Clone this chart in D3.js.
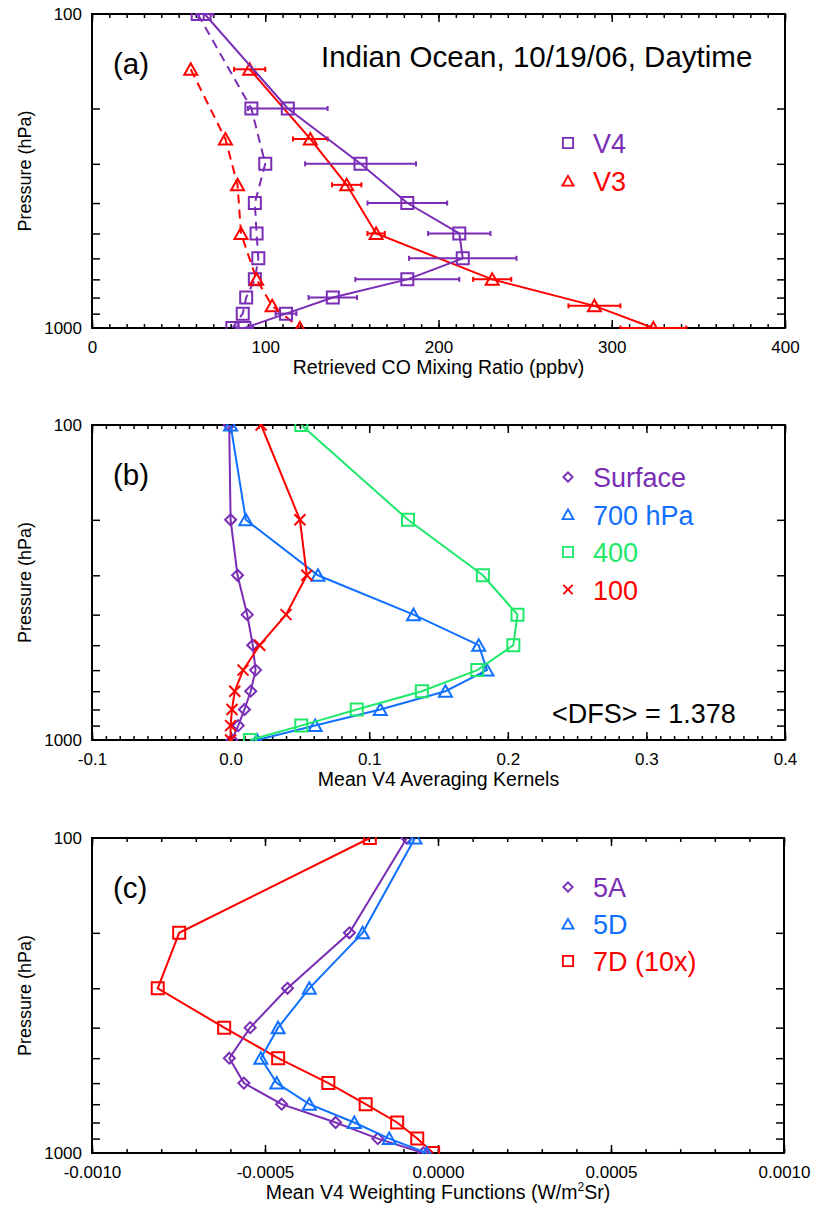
<!DOCTYPE html>
<html>
<head>
<meta charset="utf-8">
<script src="https://cdn.jsdelivr.net/npm/d3@7"></script>
<style>
body { margin: 0; background: #fff; }
text { font-family: "Liberation Sans", Arial, Helvetica, sans-serif; }
</style>
</head>
<body>
<div id="chart"></div>
<script>
// pressure levels (hPa)
var levels = [100, 200, 300, 400, 500, 600, 700, 800, 900, 1000];
var levelsV3 = [150, 250, 350, 500, 700, 850, 1000];

// panel (a): retrieved CO mixing ratio (ppbv)
var v4Retrieved = [65, 113, 155, 182, 212, 214, 182, 139, 112, 88];
var v4Error = [5, 23, 32, 23, 18, 31, 30, 14, 6, 5];
var v4Prior = [61, 92, 100, 94, 95, 96, 94, 89, 87, 81];
var v3Retrieved = [91, 126, 147, 164, 231, 290, 324];
var v3Error = [9, 10, 8.5, 5, 11, 15, 19];
var v3Prior = [57, 77, 84, 86, 95, 104, 120];

// panel (b): mean V4 averaging kernels
var akSurface = [-0.001, 0.0, 0.005, 0.012, 0.016, 0.018, 0.0145, 0.010, 0.0055, 0.001];
var ak700 = [0.0, 0.011, 0.063, 0.132, 0.179, 0.185, 0.155, 0.108, 0.061, 0.019];
var ak400 = [0.051, 0.128, 0.182, 0.207, 0.204, 0.178, 0.138, 0.091, 0.051, 0.014];
var ak100 = [0.022, 0.050, 0.055, 0.040, 0.021, 0.009, 0.003, 0.001, 0.0, 0.0];
var dfsText = "<DFS> = 1.378";

// panel (c): mean V4 weighting functions
var wf5A = [-0.00009, -0.000256, -0.000435, -0.000543, -0.000603, -0.000561, -0.000452, -0.000296, -0.000174, -0.0000425];
var wf5D = [-0.0000665, -0.000218, -0.000372, -0.000462, -0.000512, -0.000466, -0.000372, -0.000242, -0.000141, -0.0000327];
var wf7D = [-0.000197, -0.000748, -0.00081, -0.000618, -0.000462, -0.000317, -0.000209, -0.000118, -0.00006, -0.000014];

// tick labels
var xTicksA = [0, 100, 200, 300, 400];
var xTicksB = [-0.1, 0.0, 0.1, 0.2, 0.3, 0.4];
var xTicksC = [-0.001, -0.0005, 0, 0.0005, 0.001];
var yTicks = [100, 1000];
var yMinor = [200, 300, 400, 500, 600, 700, 800, 900];

var purple = "#7a2db5", red = "#ff0000", blue = "#1170ff", green = "#1fe86b";

var svg = d3.select("#chart")
    .append("svg")
    .attr("width", 815)
    .attr("height", 1205);

svg.append("rect").attr("width", 815).attr("height", 1205).attr("fill", "#fff");

// marker shapes
function markerPath(shape) {
    if (shape == "square") return "M-6,-6H6V6H-6Z";
    if (shape == "triangle") return "M0,-6L6.5,5.5H-6.5Z";
    if (shape == "diamond") return "M0,-5.5L5.5,0L0,5.5L-5.5,0Z";
    if (shape == "x") return "M-5.5,-5.5L5.5,5.5M-5.5,5.5L5.5,-5.5";
}

function makePanel(cfg) {
    var x = d3.scaleLinear().domain(cfg.xDomain).range([cfg.left, cfg.right]);
    var y = d3.scaleLog().domain([100, 1000]).range([cfg.top, cfg.bottom]);
    var g = svg.append("g");

    svg.append("clipPath").attr("id", cfg.id)
        .append("rect")
        .attr("x", cfg.left).attr("y", cfg.top - 1)
        .attr("width", cfg.right - cfg.left)
        .attr("height", cfg.bottom - cfg.top + 2);

    function styleAxis(sel) {
        sel.select(".domain").remove();
        sel.attr("color", "#000").attr("font-size", 17)
            .attr("font-family", "Liberation Sans, Arial, Helvetica, sans-serif");
        sel.selectAll("line").attr("stroke-width", 1.5);
    }

    // bottom / top axes
    g.append("g").attr("transform", `translate(0,${cfg.bottom})`)
        .call(d3.axisBottom(x).tickValues(cfg.xMinor).tickSize(-4).tickFormat(""))
        .call(styleAxis);
    g.append("g").attr("transform", `translate(0,${cfg.bottom})`)
        .call(d3.axisBottom(x).tickValues(cfg.xTicks).tickSize(-8).tickPadding(13).tickFormat(cfg.fmt))
        .call(styleAxis);
    g.append("g").attr("transform", `translate(0,${cfg.top})`)
        .call(d3.axisTop(x).tickValues(cfg.xMinor).tickSize(-4).tickFormat(""))
        .call(styleAxis);
    g.append("g").attr("transform", `translate(0,${cfg.top})`)
        .call(d3.axisTop(x).tickValues(cfg.xTicks).tickSize(-8).tickFormat(""))
        .call(styleAxis);

    // left / right axes
    g.append("g").attr("transform", `translate(${cfg.left},0)`)
        .call(d3.axisLeft(y).tickValues(yMinor).tickSize(-8).tickFormat(""))
        .call(styleAxis);
    g.append("g").attr("transform", `translate(${cfg.left},0)`)
        .call(d3.axisLeft(y).tickValues(yTicks).tickSize(0).tickPadding(10).tickFormat(d3.format("d")))
        .call(styleAxis);
    g.append("g").attr("transform", `translate(${cfg.right},0)`)
        .call(d3.axisRight(y).tickValues(yMinor).tickSize(-8).tickFormat(""))
        .call(styleAxis);

    // frame
    g.append("rect")
        .attr("x", cfg.left).attr("y", cfg.top)
        .attr("width", cfg.right - cfg.left).attr("height", cfg.bottom - cfg.top)
        .attr("fill", "none").attr("stroke", "#000").attr("stroke-width", 2);

    // axis titles
    var title = g.append("text")
        .attr("x", (cfg.left + cfg.right) / 2)
        .attr("y", cfg.bottom + 46)
        .attr("text-anchor", "middle")
        .attr("font-size", 19.5)
        .text(cfg.xLabel);
    if (cfg.xLabelSup) {
        title.append("tspan").attr("font-size", 12).attr("dy", -8).text(cfg.xLabelSup);
        title.append("tspan").attr("dy", 8).text(cfg.xLabelEnd);
    }
    g.append("text")
        .attr("transform", `translate(31,${(cfg.top + cfg.bottom) / 2}) rotate(-90)`)
        .attr("text-anchor", "middle")
        .attr("font-size", 18)
        .text("Pressure (hPa)");

    // panel letter
    g.append("text")
        .attr("x", 113).attr("y", cfg.top + 60)
        .attr("font-size", 29.5)
        .text(cfg.letter);

    var plot = svg.append("g").attr("clip-path", `url(#${cfg.id})`);
    return { x: x, y: y, plot: plot, g: g };
}

function drawSeries(p, xs, ps, color, shape, dashed) {
    var pts = xs.map((v, i) => [v, ps[i]]);
    var line = d3.line().x(d => p.x(d[0])).y(d => p.y(d[1]));
    p.plot.append("path")
        .datum(pts)
        .attr("d", line)
        .attr("fill", "none")
        .attr("stroke", color)
        .attr("stroke-width", 2)
        .attr("stroke-dasharray", dashed ? "9,6" : null);
    p.plot.selectAll(null)
        .data(pts)
        .enter()
        .append("path")
        .attr("transform", d => `translate(${p.x(d[0])},${p.y(d[1])})`)
        .attr("d", markerPath(shape))
        .attr("fill", "none")
        .attr("stroke", color)
        .attr("stroke-width", 2);
}

function drawErrors(p, xs, errs, ps, color) {
    var bars = p.plot.selectAll(null)
        .data(xs.map((v, i) => ({ v: v, e: errs[i], p: ps[i] })))
        .enter()
        .append("g")
        .attr("stroke", color)
        .attr("stroke-width", 2);
    bars.append("line")
        .attr("x1", d => p.x(d.v - d.e)).attr("x2", d => p.x(d.v + d.e))
        .attr("y1", d => p.y(d.p)).attr("y2", d => p.y(d.p));
    bars.append("line")
        .attr("x1", d => p.x(d.v - d.e)).attr("x2", d => p.x(d.v - d.e))
        .attr("y1", d => p.y(d.p) - 2.5).attr("y2", d => p.y(d.p) + 2.5);
    bars.append("line")
        .attr("x1", d => p.x(d.v + d.e)).attr("x2", d => p.x(d.v + d.e))
        .attr("y1", d => p.y(d.p) - 2.5).attr("y2", d => p.y(d.p) + 2.5);
}

function drawLegend(p, items, x0, y0, step) {
    items.forEach(function (it, i) {
        p.g.append("path")
            .attr("transform", `translate(${x0},${y0 + i * step - 10}) scale(0.85)`)
            .attr("d", markerPath(it.shape))
            .attr("fill", "none")
            .attr("stroke", it.color)
            .attr("stroke-width", 2.2);
        p.g.append("text")
            .attr("x", x0 + 25).attr("y", y0 + i * step)
            .attr("font-size", 27)
            .attr("fill", it.color)
            .text(it.label);
    });
}

// ----- panel (a)
var pa = makePanel({
    id: "clipA", left: 92, right: 785, top: 14, bottom: 328,
    xDomain: [0, 400], xTicks: xTicksA, xMinor: d3.range(0, 401, 10),
    fmt: d3.format("d"), xLabel: "Retrieved CO Mixing Ratio (ppbv)", letter: "(a)"
});
drawSeries(pa, v4Prior, levels, purple, "square", true);
drawSeries(pa, v3Prior, levelsV3, red, "triangle", true);
drawErrors(pa, v3Retrieved, v3Error, levelsV3, red);
drawSeries(pa, v3Retrieved, levelsV3, red, "triangle", false);
drawErrors(pa, v4Retrieved, v4Error, levels, purple);
drawSeries(pa, v4Retrieved, levels, purple, "square", false);

pa.g.append("text")
    .attr("x", 321).attr("y", 67)
    .attr("font-size", 29.5)
    .text("Indian Ocean, 10/19/06, Daytime");
drawLegend(pa, [
    { shape: "square", color: purple, label: "V4" },
    { shape: "triangle", color: red, label: "V3" }
], 568, 153, 38);

// ----- panel (b)
var pb = makePanel({
    id: "clipB", left: 92, right: 785, top: 425, bottom: 740,
    xDomain: [-0.1, 0.4], xTicks: xTicksB, xMinor: d3.range(-10, 41).map(d => d / 100),
    fmt: d => d.toFixed(1), xLabel: "Mean V4 Averaging Kernels", letter: "(b)"
});
drawSeries(pb, akSurface, levels, purple, "diamond", false);
drawSeries(pb, ak700, levels, blue, "triangle", false);
drawSeries(pb, ak400, levels, green, "square", false);
drawSeries(pb, ak100, levels, red, "x", false);
drawLegend(pb, [
    { shape: "diamond", color: purple, label: "Surface" },
    { shape: "triangle", color: blue, label: "700 hPa" },
    { shape: "square", color: green, label: "400" },
    { shape: "x", color: red, label: "100" }
], 568, 487, 37.5);
pb.g.append("text")
    .attr("x", 552).attr("y", 723)
    .attr("font-size", 27)
    .text(dfsText);

// ----- panel (c)
var pc = makePanel({
    id: "clipC", left: 92, right: 784, top: 838, bottom: 1153,
    xDomain: [-0.001, 0.001], xTicks: xTicksC, xMinor: d3.range(-10, 11).map(d => d / 10000),
    fmt: d => d.toFixed(4), xLabel: "Mean V4 Weighting Functions (W/m",
    xLabelSup: "2", xLabelEnd: "Sr)", letter: "(c)"
});
drawSeries(pc, wf7D, levels, red, "square", false);
drawSeries(pc, wf5A, levels, purple, "diamond", false);
drawSeries(pc, wf5D, levels, blue, "triangle", false);
drawLegend(pc, [
    { shape: "diamond", color: purple, label: "5A" },
    { shape: "triangle", color: blue, label: "5D" },
    { shape: "square", color: red, label: "7D (10x)" }
], 568, 897, 37);
</script>
</body>
</html>
